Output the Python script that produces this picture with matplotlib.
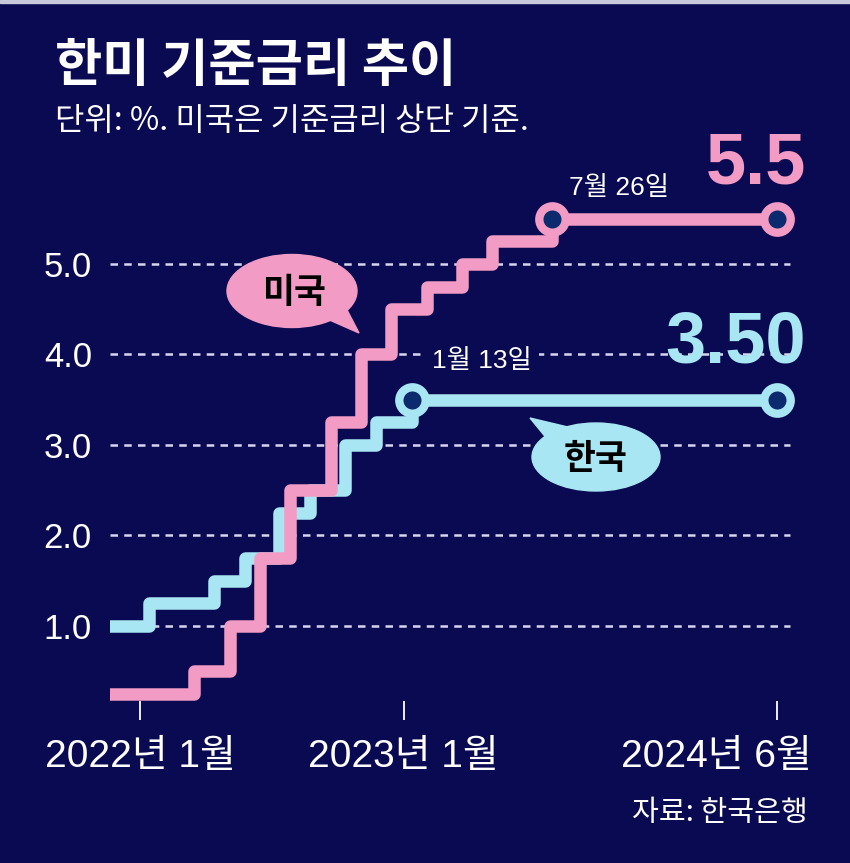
import matplotlib

matplotlib.use("Agg")
import matplotlib.pyplot as plt  # noqa: E402
import matplotlib.dates as mdates  # noqa: E402
import pandas as pd  # noqa: E402
from matplotlib.patches import Ellipse, Polygon, Rectangle  # noqa: E402
from matplotlib.transforms import ScaledTranslation  # noqa: E402

W, H = 850, 863
NAVY = "#0a0a52"
HOLE = "#0c2a6e"
PINK = "#f29bc4"
BLUE = "#a9e6f3"
GRID = "#d6d6ee"
KR = ["Noto Sans CJK KR", "DejaVu Sans"]
NUM = ["Liberation Sans", "Noto Sans CJK KR"]

# US policy rate (upper bound), %
us_dates = ["2021-11-28", "2022-03-17", "2022-05-05", "2022-06-16", "2022-07-28",
            "2022-09-22", "2022-11-03", "2022-12-15", "2023-02-02", "2023-03-23",
            "2023-05-04", "2023-07-26"]
us_rates = [0.25, 0.50, 1.00, 1.75, 2.50, 3.25, 4.00, 4.50, 4.75, 5.00, 5.25, 5.50]

# Bank of Korea base rate, %
kr_dates = ["2021-11-28", "2022-01-14", "2022-04-14", "2022-05-26", "2022-07-13",
            "2022-08-25", "2022-10-12", "2022-11-24", "2023-01-13"]
kr_rates = [1.00, 1.25, 1.50, 1.75, 2.25, 2.50, 3.00, 3.25, 3.50]

end_date = "2024-06-01"
x_ticks = ["2022-01-01", "2023-01-01", "2024-06-01"]
x_labels = ["2022년 1월", "2023년 1월", "2024년 6월"]
y_ticks = [1, 2, 3, 4, 5]


def fx(x):
    return x / W


def fy(y):
    return 1 - y / H


fig = plt.figure(figsize=(W / 100, H / 100), dpi=100, facecolor=NAVY)
fig.patches.append(Rectangle((0, fy(3)), 1, 3 / H, transform=fig.transFigure,
                             color="#c9c9dc", zorder=0))

ax = fig.add_axes([fx(110), fy(720), (800 - 110) / W, (720 - 140) / H])
ax.set_facecolor(NAVY)
for s in ax.spines.values():
    s.set_visible(False)

# x scale: 2022-01 at px 140, 2024-06 at px 777
d0 = mdates.date2num(pd.Timestamp(x_ticks[0]))
d1 = mdates.date2num(pd.Timestamp(x_ticks[-1]))
scale = (777 - 140) / (d1 - d0)
ax.set_xlim(d0 - 30 / scale, d1 + 23 / scale)
ax.set_ylim(-0.04, 6.37)

for v in y_ticks:
    ax.axhline(v, xmin=0, xmax=(790 - 110) / 690, color=GRID, lw=1.8,
               dashes=(3, 2.5), zorder=1)

kd = pd.to_datetime(kr_dates + [end_date])
ud = pd.to_datetime(us_dates + [end_date])
ax.step(kd, kr_rates + [kr_rates[-1]], where="post", color=BLUE, lw=9,
        solid_joinstyle="round", zorder=3)
ax.step(ud, us_rates + [us_rates[-1]], where="post", color=PINK, lw=9,
        solid_joinstyle="round", zorder=4)

ax.plot([kd[-2], kd[-1]], [kr_rates[-1]] * 2, "o", ms=19, mfc=HOLE, mec=BLUE,
        mew=6, zorder=5)
ax.plot([ud[-2], ud[-1]], [us_rates[-1]] * 2, "o", ms=19, mfc=HOLE, mec=PINK,
        mew=6, zorder=5)

ax.annotate("7월 26일", (ud[-2], us_rates[-1]), xytext=(12, 22),
            textcoords="offset points", ha="left", va="center", fontsize=19,
            color="white", family=NUM, zorder=6)
ax.annotate("1월 13일", (kd[-2], kr_rates[-1]), xytext=(14, 28),
            textcoords="offset points", ha="left", va="center", fontsize=19,
            color="white", family=NUM, zorder=6,
            bbox=dict(boxstyle="square,pad=0.3", fc=NAVY, ec="none"))

ax.set_yticks(y_ticks)
ax.set_yticklabels([f"{v:.1f}" for v in y_ticks], family=NUM, fontsize=25,
                   color="white")
ax.tick_params(axis="y", length=0, pad=13)
ax.set_xticks(pd.to_datetime(x_ticks))
ax.set_xticklabels(x_labels, family=NUM, fontsize=28, color="white")
ax.tick_params(axis="x", direction="in", length=14, width=1.3, color="white",
               pad=14)
last = ax.get_xticklabels()[-1]
last.set_transform(last.get_transform() + ScaledTranslation(-0.61, 0, fig.dpi_scale_trans))

# speech bubbles
fig.patches.append(Polygon([(fx(325), fy(318)), (fx(345), fy(306)), (fx(359), fy(333))],
                           closed=True, transform=fig.transFigure, color=PINK, zorder=6))
fig.patches.append(Ellipse((fx(292), fy(291)), 130 / W, 73 / H,
                           transform=fig.transFigure, color=PINK, zorder=6))
fig.text(fx(294), fy(292), "미국", ha="center", va="center", fontsize=25,
         weight="bold", family=KR, color="black", zorder=7)

fig.patches.append(Polygon([(fx(548), fy(440)), (fx(572), fy(428)), (fx(530), fy(418))],
                           closed=True, transform=fig.transFigure, color=BLUE, zorder=6))
fig.patches.append(Ellipse((fx(596), fy(457)), 128 / W, 68 / H,
                           transform=fig.transFigure, color=BLUE, zorder=6))
fig.text(fx(596), fy(458), "한국", ha="center", va="center", fontsize=25,
         weight="bold", family=KR, color="black", zorder=7)

# big value labels
fig.text(fx(806), fy(183), "5.5", ha="right", va="baseline", fontsize=52,
         weight="bold", family=NUM, color=PINK)
fig.text(fx(806), fy(362), "3.50", ha="right", va="baseline", fontsize=52,
         weight="bold", family=NUM, color=BLUE)

fig.text(fx(55), fy(66), "한미 기준금리 추이", ha="left", va="center", fontsize=37,
         weight="bold", family=KR, color="white")
fig.text(fx(55), fy(121), "단위: %. 미국은 기준금리 상단 기준.", ha="left",
         va="center", fontsize=23, family=KR, color="white")
fig.text(fx(808), fy(813), "자료: 한국은행", ha="right", va="center", fontsize=21,
         family=KR, color="white")

fig.savefig("out.png", dpi=100, facecolor=NAVY)
